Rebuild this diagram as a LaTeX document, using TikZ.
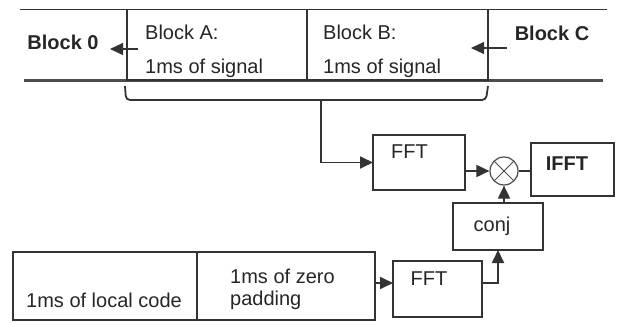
\documentclass[tikz,border=0pt]{standalone}
\usepackage{fontspec}
\setmainfont{Liberation Sans}
\usetikzlibrary{arrows.meta}

\begin{document}
\begin{tikzpicture}[x=1pt,y=-1pt,
  box/.style={draw=black!80,line width=1.2pt,fill=white,inner sep=0pt,outer sep=0pt},
  lbl/.style={font=\fontsize{20}{22}\selectfont,text=black!85,inner sep=0pt},
  wire/.style={draw=black!80,line width=1.8pt},
  arr/.style={wire,-{Triangle[length=13pt,width=12pt]}},
  mult/.style={draw=black!70,line width=1.2pt,fill=white,circle,minimum size=28pt,inner sep=0pt,
    path picture={\draw[black!70,line width=1pt] (path picture bounding box.north west) -- (path picture bounding box.south east)
      (path picture bounding box.north east) -- (path picture bounding box.south west);}}]
\useasboundingbox (0,0) rectangle (622,322);

% signal blocks
\draw[black!80,line width=1.2pt] (20,9.5) -- (607,9.5);
\draw[black!70,line width=3pt] (24,80) -- (603,80);
\node[box,minimum width=180,minimum height=70.5,anchor=north west,
  label={[lbl,font=\fontsize{20}{34}\selectfont,align=left,anchor=west,xshift=18pt,yshift=-7pt]west:Block A:\\1ms of signal}] (blockA) at (127,9.5) {};
\node[box,minimum width=181,minimum height=70.5,anchor=north west,
  label={[lbl,font=\fontsize{20}{34}\selectfont,align=left,anchor=west,xshift=16pt,yshift=-7pt]west:Block B:\\1ms of signal}] (blockB) at (blockA.north east) {};
\node[lbl,font=\fontsize{20}{22}\selectfont\bfseries] (blk0) at (63,42) {Block 0};
\node[lbl,font=\fontsize{20}{22}\selectfont\bfseries] (blkC) at (552,33) {Block C};
\coordinate (outA) at (138,49);
\coordinate (endA) at (110,49);
\coordinate (outB) at (507,48);
\coordinate (endB) at (471,48);
\draw[arr,line width=1.2pt] (outA) -- (endA);
\draw[arr,line width=1.2pt] (outB) -- (endB);

% correlation
\draw[wire,rounded corners=4pt] (125,86) -- (126,100) -- (486,100) -- (488,86);
\coordinate (brc) at (321,100);
\node[box,minimum width=92,minimum height=55,
  label={[lbl,xshift=-9.5pt,yshift=10.5pt]center:FFT}] (fftA) at (419,162.5) {};
\node[mult] (mix) at (504,171) {};
\node[box,line width=2.2pt,minimum width=83,minimum height=53,
  label={[lbl,font=\fontsize{20}{22}\selectfont\bfseries,xshift=-5.5pt,yshift=5.5pt]center:IFFT}] (ifft) at (572.5,169.5) {};
\node[box,minimum width=90,minimum height=47,
  label={[lbl,xshift=-6pt]center:conj}] (conj) at (498,226.5) {};

% local code
\node[box,minimum width=184,minimum height=68,
  label={[lbl,xshift=-1pt,yshift=-14pt]center:1ms of local code}] (local) at (105,286) {};
\node[box,minimum width=178,minimum height=68,anchor=west,
  label={[lbl,align=left,anchor=west,xshift=33pt,yshift=-3pt]west:1ms of zero\\padding}] (zero) at (local.east) {};
\node[box,minimum width=89,minimum height=56,
  label={[lbl,xshift=-8.5pt,yshift=10pt]center:FFT}] (fftB) at (437.5,289) {};

\draw[arr] (brc) |- (fftA.west);
\draw[arr] (fftA.east |- mix.west) -- (mix.west);
\draw[wire] (mix.east) -- (mix.east -| ifft.west);
\draw[arr] (mix.south |- conj.north) -- (mix.south);
\draw[arr] ([yshift=6pt]fftB.west -| zero.east) -- ([yshift=6pt]fftB.west);
\draw[arr] ([yshift=6pt]fftB.east) -| (conj.south);
\end{tikzpicture}
\end{document}
